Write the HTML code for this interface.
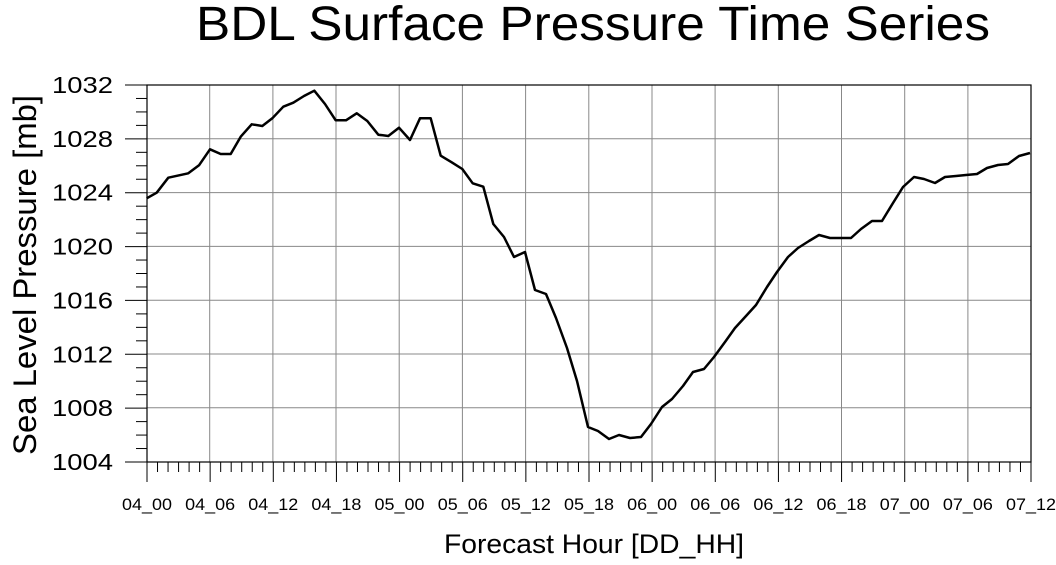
<!DOCTYPE html>
<html><head><meta charset="utf-8"><style>html,body{margin:0;padding:0;background:#fff}</style></head>
<body>
<svg width="1056" height="560" xmlns="http://www.w3.org/2000/svg" font-family="Liberation Sans, sans-serif">
<rect width="1056" height="560" fill="#fff"/>
<text x="593" y="40" font-size="48" text-anchor="middle" textLength="794" lengthAdjust="spacingAndGlyphs">BDL Surface Pressure Time Series</text>
<g stroke="#888" stroke-width="1">
<line x1="209.7" y1="85" x2="209.7" y2="462"/><line x1="272.9" y1="85" x2="272.9" y2="462"/><line x1="336" y1="85" x2="336" y2="462"/><line x1="399.2" y1="85" x2="399.2" y2="462"/><line x1="462.4" y1="85" x2="462.4" y2="462"/><line x1="525.6" y1="85" x2="525.6" y2="462"/><line x1="588.8" y1="85" x2="588.8" y2="462"/><line x1="652" y1="85" x2="652" y2="462"/><line x1="715.1" y1="85" x2="715.1" y2="462"/><line x1="778.3" y1="85" x2="778.3" y2="462"/><line x1="841.5" y1="85" x2="841.5" y2="462"/><line x1="904.7" y1="85" x2="904.7" y2="462"/><line x1="967.9" y1="85" x2="967.9" y2="462"/>
<line x1="147" y1="138.8" x2="1031" y2="138.8"/><line x1="147" y1="192.6" x2="1031" y2="192.6"/><line x1="147" y1="246.4" x2="1031" y2="246.4"/><line x1="147" y1="300.2" x2="1031" y2="300.2"/><line x1="147" y1="354" x2="1031" y2="354"/><line x1="147" y1="407.8" x2="1031" y2="407.8"/>
</g>
<rect x="147" y="85" width="884" height="377" fill="none" stroke="#000" stroke-width="1.2"/>
<g id="ticks" stroke="#000" stroke-width="1"></g>
<g id="ylab" font-size="23" text-anchor="end"></g>
<g id="xlab" font-size="16.5" text-anchor="middle"></g>
<text x="594" y="553" font-size="27" text-anchor="middle" textLength="300" lengthAdjust="spacingAndGlyphs">Forecast Hour [DD_HH]</text>
<text transform="translate(36,275) rotate(-90)" font-size="32" text-anchor="middle" textLength="360" lengthAdjust="spacingAndGlyphs">Sea Level Pressure [mb]</text>
<polyline fill="none" stroke="#000" stroke-width="2.5" stroke-linejoin="round" points="146.7,198.3 156.7,192.7 168.3,177.7 188.3,173.3 199,165.3 210,149.3 220.7,154 230.7,154 240.7,136.7 251.7,124.3 262.3,126 272.3,118.3 283.3,106.7 293.3,102.7 304,96 314.3,90.7 325,104 335.7,120.3 346,120.3 356.7,113.3 367.3,121 378.3,134.7 388.3,136 399,127.7 410,140 420,118.3 430.7,118.3 440.7,155.7 451.7,162.3 462.3,169 472.7,183.3 483.3,186.7 493.3,224 504,237 514,257 525,252 535,290 546,294 556,318 567,348 577,381 588,427 598,431 609,439 619,435 630,438 641,437 651,424 662,407 672,399 683,386 693,372 704,369 714,357 725,342 735,328 746,316 756,305 767,287 777,272 788,257 798,248 809,241 819,235 830,238 840,238 851,238 861,229 872,221 882,221 893,203 903,187 914,177 924,179 935,183 945,177 956,176 966,175 977,174 987,168 998,165 1008,164 1019,156 1030,153"/>
<script>
var ns="http://www.w3.org/2000/svg",t=document.getElementById("ticks"),yl=document.getElementById("ylab"),xl=document.getElementById("xlab");
function ln(x1,y1,x2,y2){var l=document.createElementNS(ns,"line");l.setAttribute("x1",x1);l.setAttribute("y1",y1);l.setAttribute("x2",x2);l.setAttribute("y2",y2);t.appendChild(l);}
for(var i=0;i<=28;i++){var y=85+i*377/28;if(i%4==0){ln(125,y,147,y);var s=document.createElementNS(ns,"text");s.setAttribute("x",113);s.setAttribute("y",y+8);s.setAttribute("textLength",61);s.setAttribute("lengthAdjust","spacingAndGlyphs");s.textContent=1032-i;yl.appendChild(s);}else ln(136,y,147,y);}
var labs=["04_00","04_06","04_12","04_18","05_00","05_06","05_12","05_18","06_00","06_06","06_12","06_18","07_00","07_06","07_12"];
for(var h=0;h<=84;h++){var x=147+h*884/84;if(h%6==0){ln(x,462,x,482);var s=document.createElementNS(ns,"text");s.setAttribute("x",x);s.setAttribute("y",510);s.setAttribute("textLength",50);s.setAttribute("lengthAdjust","spacingAndGlyphs");s.textContent=labs[h/6];xl.appendChild(s);}else ln(x,462,x,472);}
</script>
</svg>
</body></html>
